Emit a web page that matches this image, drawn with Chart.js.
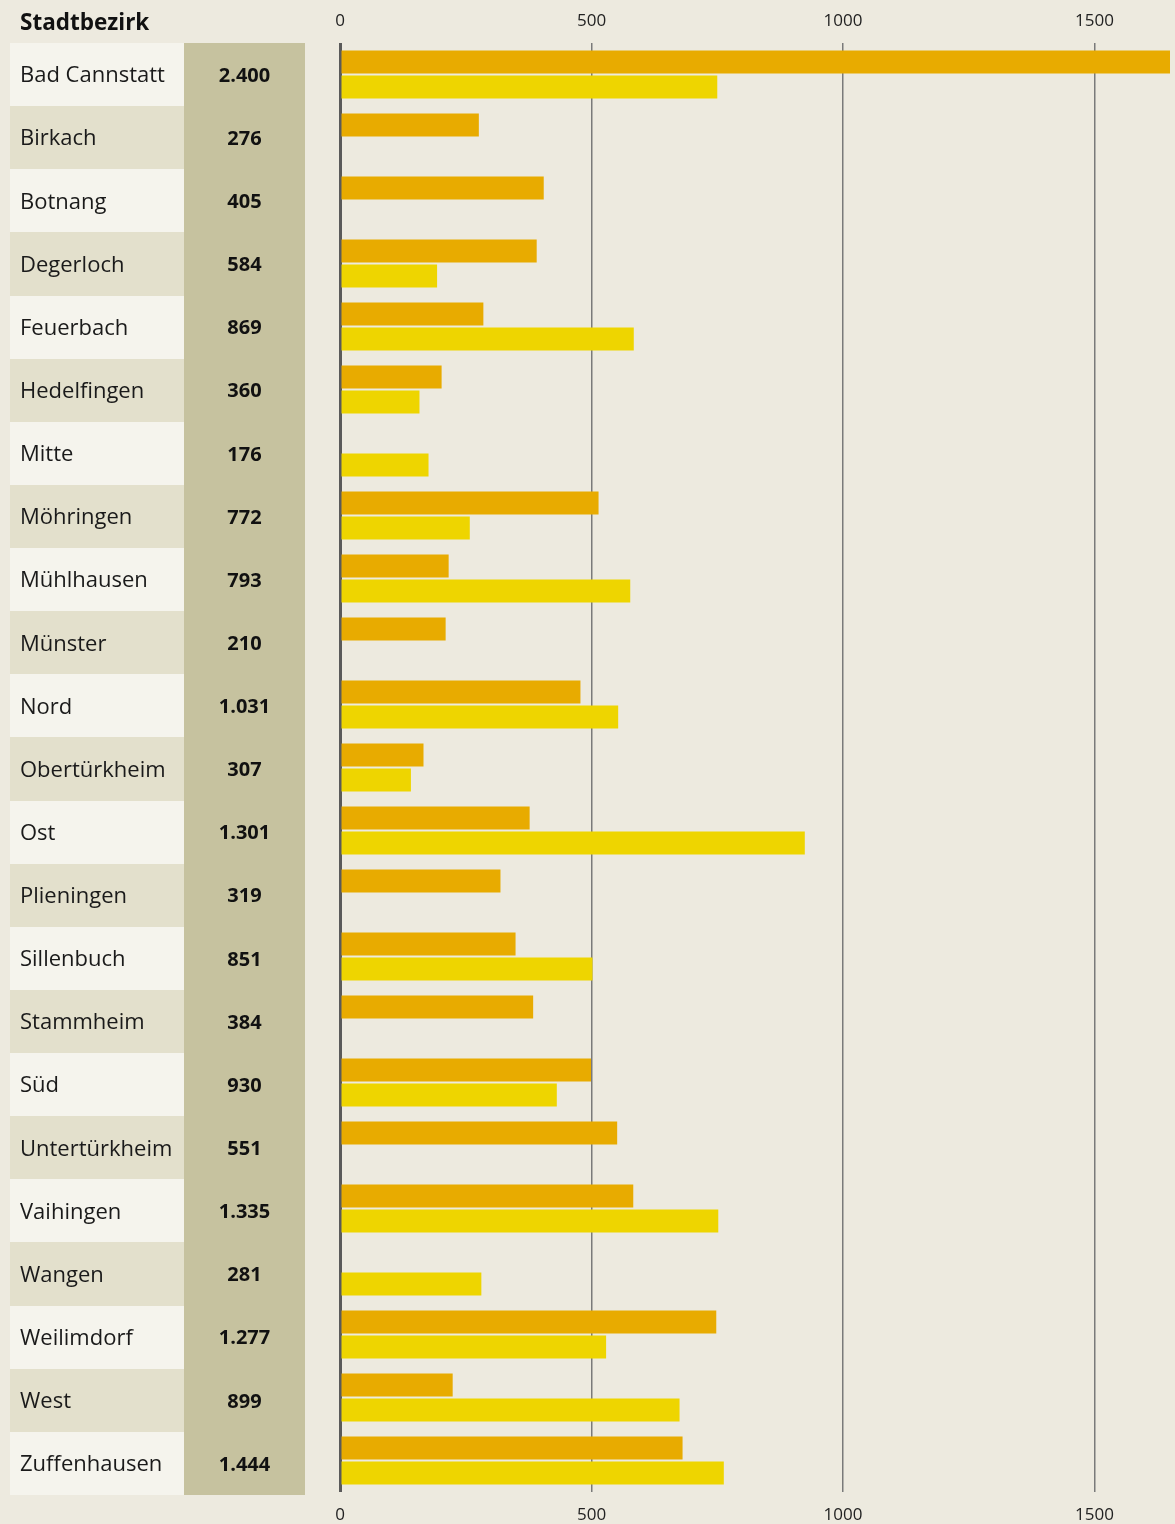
<!DOCTYPE html>
<html>
<head>
<meta charset="utf-8">
<script src="https://cdn.jsdelivr.net/npm/chart.js@4/dist/chart.umd.min.js"></script>
<style>
  html, body { margin: 0; padding: 0; background: #edeadf; }
  #wrap { position: relative; width: 1175px; height: 1524px; }
</style>
</head>
<body>
<div id="wrap"><canvas id="c" width="1175" height="1524"></canvas></div>
<script>
const headerLabel = "Stadtbezirk";
const districts = ["Bad Cannstatt","Birkach","Botnang","Degerloch","Feuerbach","Hedelfingen","Mitte","Möhringen","Mühlhausen","Münster","Nord","Obertürkheim","Ost","Plieningen","Sillenbuch","Stammheim","Süd","Untertürkheim","Vaihingen","Wangen","Weilimdorf","West","Zuffenhausen"];
const totals = ["2.400","276","405","584","869","360","176","772","793","210","1.031","307","1.301","319","851","384","930","551","1.335","281","1.277","899","1.444"];
const seriesA = [1650,276,405,391,285,202,null,514,216,210,478,166,377,319,349,384,499,551,583,null,748,224,681];
const seriesB = [750,null,null,193,584,158,176,258,577,null,553,141,924,null,502,null,431,null,752,281,529,675,763];
const xTicks = [0,500,1000,1500];

const FONT = "'Open Sans', 'Noto Sans', sans-serif";

const tablePlugin = {
  id: 'table',
  beforeDraw(chart) {
    const ctx = chart.ctx;
    const area = chart.chartArea;
    const n = districts.length;
    const tTop = area.top, tBot = area.bottom + 3;
    const band = (tBot - tTop) / n;
    ctx.save();
    ctx.fillStyle = '#edeadf';
    ctx.fillRect(0, 0, chart.width, chart.height);
    for (let i = 0; i < n; i++) {
      const top = Math.round(tTop + i * band), bot = Math.round(tTop + (i + 1) * band);
      const c = tTop + i * band + band / 2;
      ctx.fillStyle = i % 2 === 0 ? '#f5f4ed' : '#e3e0cc';
      ctx.fillRect(10, top, 174, bot - top);
      ctx.fillStyle = '#c6c29f';
      ctx.fillRect(184, top, 121, bot - top);
      ctx.textBaseline = 'middle';
      ctx.fillStyle = '#1a1a1a';
      ctx.textAlign = 'left';
      ctx.font = "22px " + FONT;
      ctx.fillText(districts[i], 20, c + 1.5);
      ctx.textAlign = 'center';
      ctx.font = "bold 20px " + FONT;
      ctx.fillStyle = '#111';
      ctx.fillText(totals[i], 244.5, c + 1.5);
    }
    ctx.textAlign = 'left';
    ctx.font = "bold 22.5px " + FONT;
    ctx.fillStyle = '#111';
    ctx.fillText(headerLabel, 20, 24);
    ctx.restore();
  }
};

const xAxisCommon = {
  min: 0, max: 1650,
  afterBuildTicks(scale) { scale.ticks = xTicks.map(v => ({ value: v })); },
  ticks: { color: '#222', font: { family: FONT, size: 17 }, includeBounds: false, callback: v => String(v) },
  border: { display: false },
};

new Chart(document.getElementById('c'), {
  type: 'bar',
  data: {
    labels: districts,
    datasets: [
      { data: seriesA, backgroundColor: '#e8ab00', categoryPercentage: 0.794, barPercentage: 0.92 },
      { data: seriesB, backgroundColor: '#eed500', categoryPercentage: 0.794, barPercentage: 0.92 }
    ]
  },
  options: {
    indexAxis: 'y',
    responsive: false,
    animation: false,
    devicePixelRatio: 1,
    layout: { padding: { left: 340, right: 5, top: 0, bottom: 0 } },
    plugins: { legend: { display: false }, tooltip: { enabled: false } },
    scales: {
      y: { display: false, type: 'category' },
      x: Object.assign({}, xAxisCommon, {
        position: 'bottom',
        afterFit(s) { s.height = 32; },
        ticks: Object.assign({}, xAxisCommon.ticks, { padding: 13 }),
        grid: {
          drawTicks: false,
          color: ctx => ctx.tick && ctx.tick.value === 0 ? '#5a5a5a' : '#7a7a7a',
          lineWidth: ctx => ctx.tick && ctx.tick.value === 0 ? 3 : 1.5
        }
      }),
      x2: Object.assign({}, xAxisCommon, {
        position: 'top',
        afterFit(s) { s.height = 43; },
        ticks: Object.assign({}, xAxisCommon.ticks, { padding: 12 }),
        grid: { display: false, drawTicks: false }
      })
    }
  },
  plugins: [tablePlugin]
});
</script>
</body>
</html>
